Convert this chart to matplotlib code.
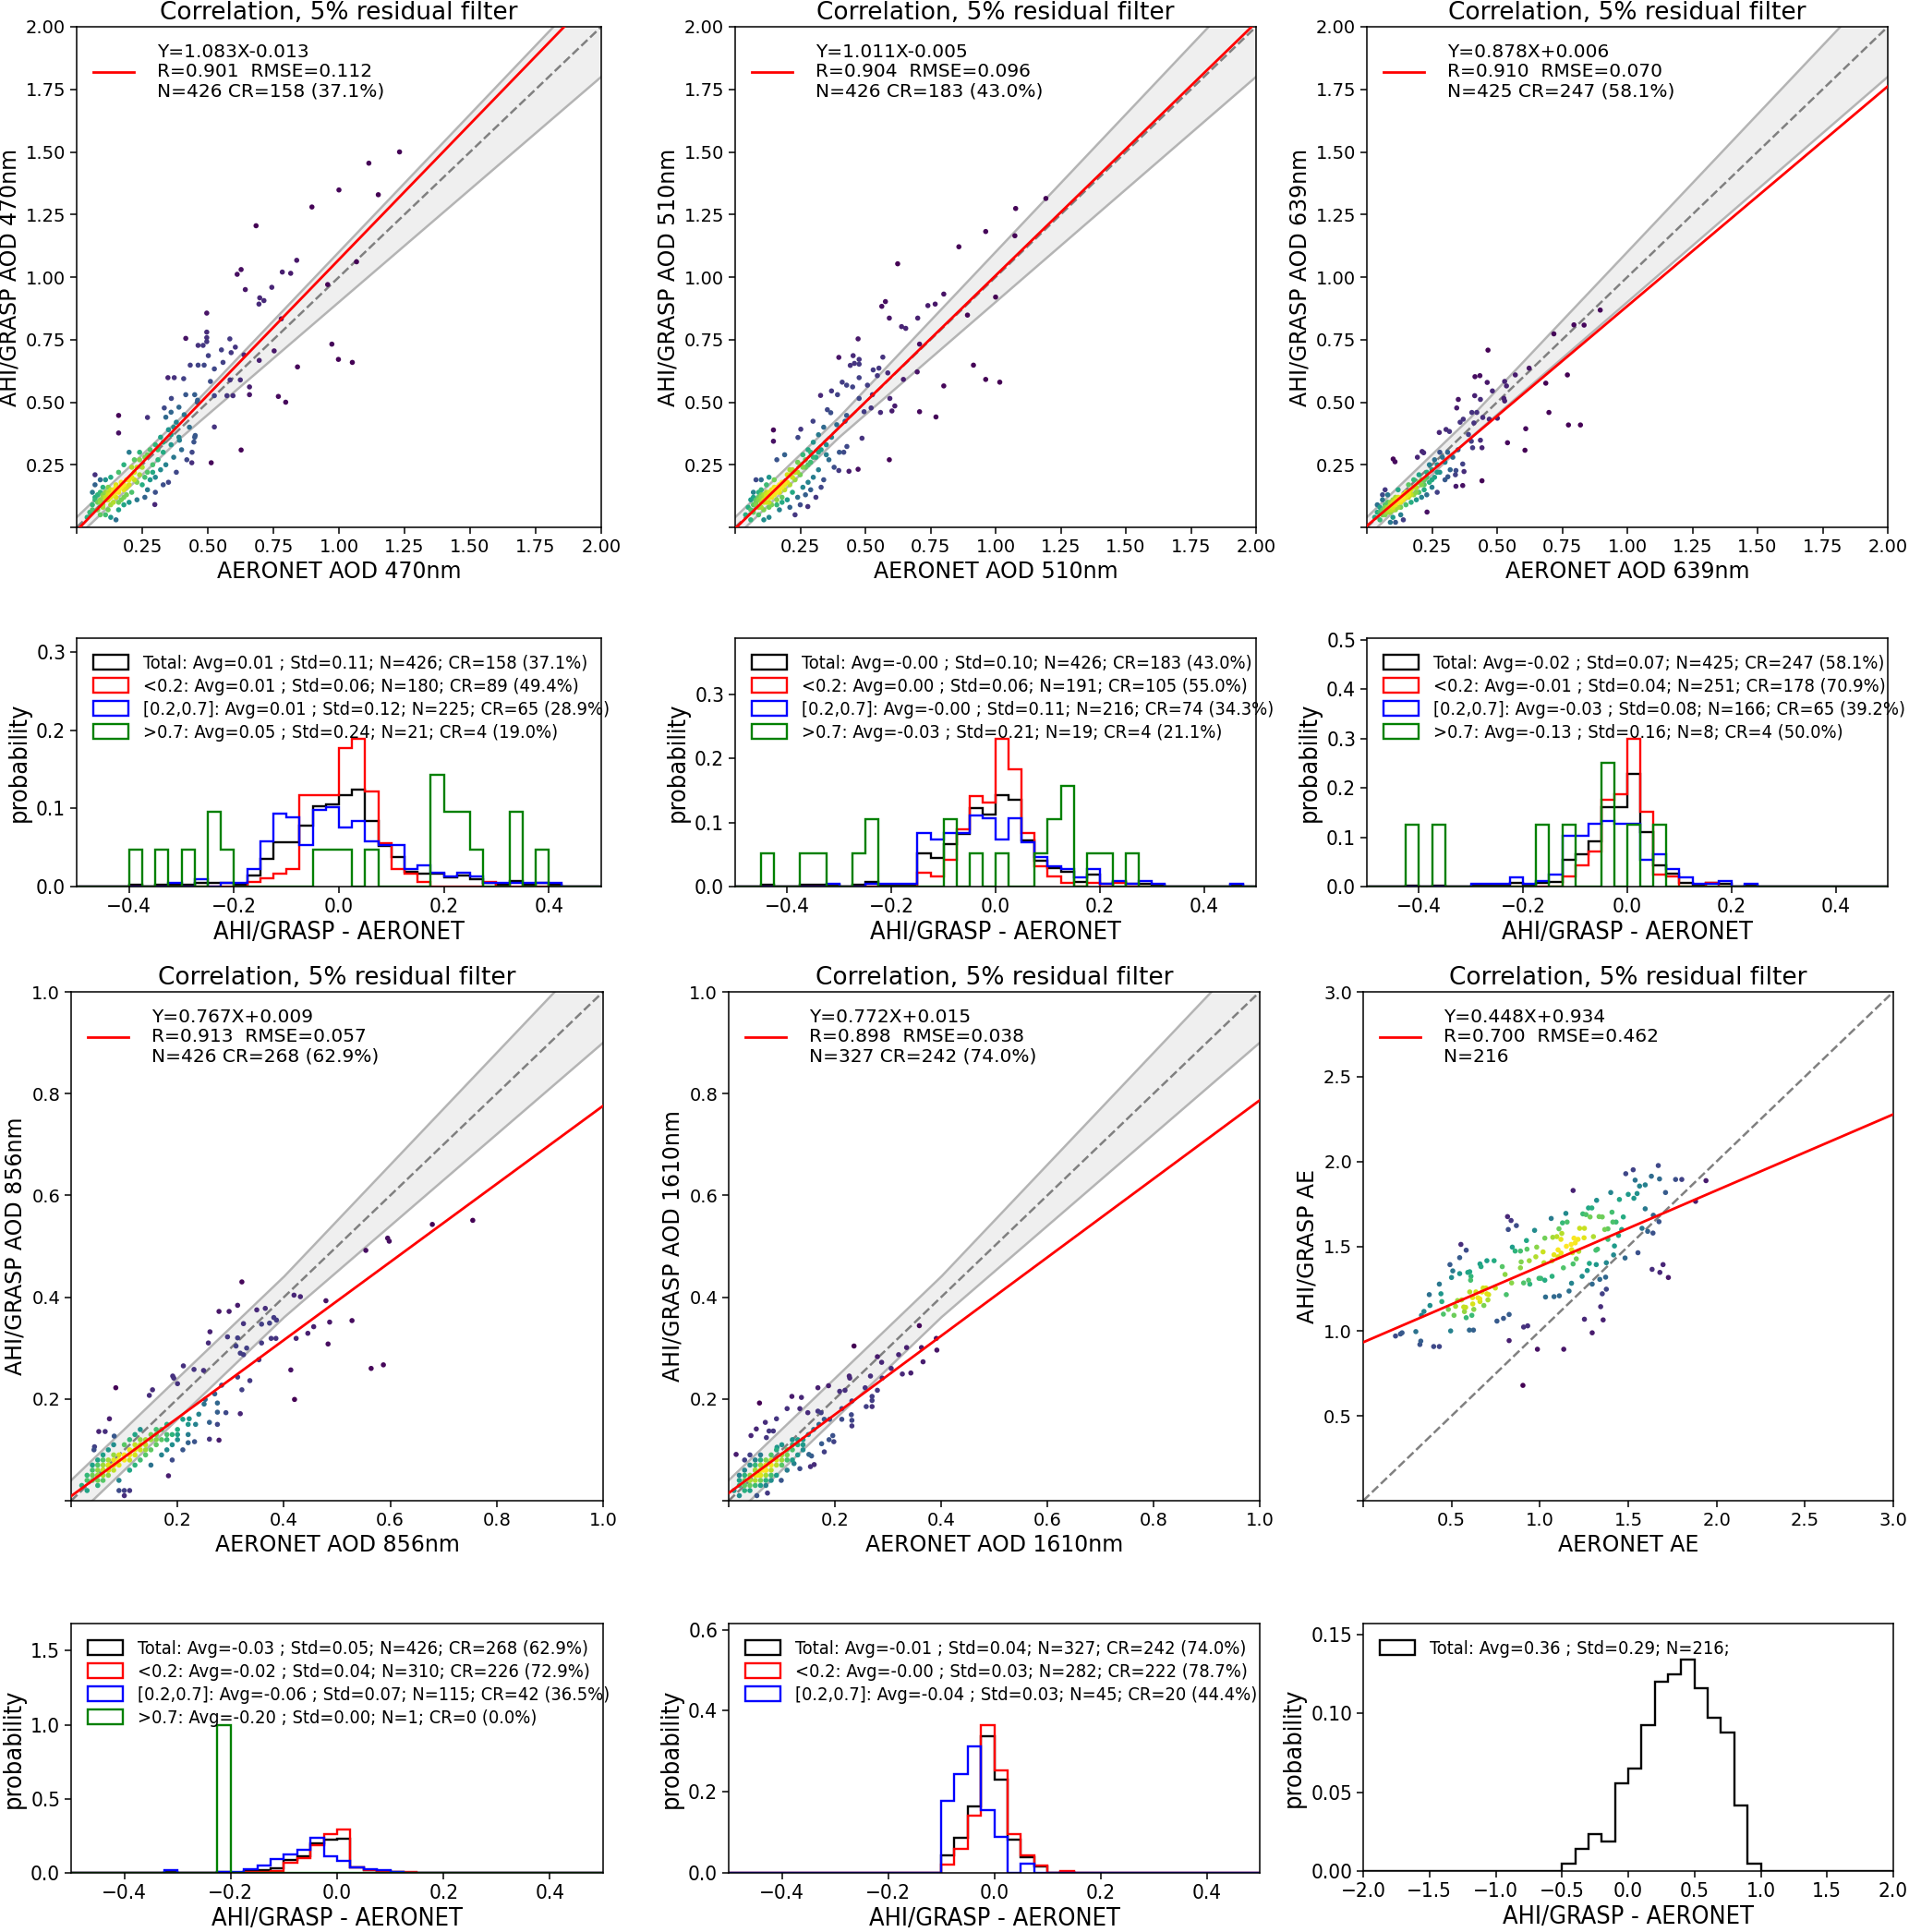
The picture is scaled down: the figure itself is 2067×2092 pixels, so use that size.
import numpy as np
import matplotlib
matplotlib.use("Agg")
import matplotlib.pyplot as plt
from matplotlib import font_manager as fm

# ---------------------------------------------------------------- data
titles = "Correlation, 5% residual filter"
bands = ["470nm", "510nm", "639nm", "856nm", "1610nm"]

fit_slope = [1.083, 1.011, 0.878, 0.767, 0.772, 0.448]
fit_icpt = [-0.013, -0.005, 0.006, 0.009, 0.015, 0.934]
fit_text = [
    "Y=1.083X-0.013\nR=0.901  RMSE=0.112\nN=426 CR=158 (37.1%)",
    "Y=1.011X-0.005\nR=0.904  RMSE=0.096\nN=426 CR=183 (43.0%)",
    "Y=0.878X+0.006\nR=0.910  RMSE=0.070\nN=425 CR=247 (58.1%)",
    "Y=0.767X+0.009\nR=0.913  RMSE=0.057\nN=426 CR=268 (62.9%)",
    "Y=0.772X+0.015\nR=0.898  RMSE=0.038\nN=327 CR=242 (74.0%)",
    "Y=0.448X+0.934\nR=0.700  RMSE=0.462\nN=216",
]

pts_470 = np.array([
    (1.231, 1.5), (1.114, 1.455), (1.0, 1.348), (1.15, 1.329), (0.897, 1.28), (0.684, 1.205),
    (1.067, 1.061), (0.839, 1.067), (0.627, 1.03), (0.612, 1.011), (0.784, 1.02), (0.816, 1.015),
    (0.957, 0.97), (0.643, 0.95), (0.744, 0.959), (0.698, 0.917), (0.714, 0.906), (0.695, 0.892),
    (0.78, 0.833), (0.496, 0.856), (0.496, 0.78), (0.496, 0.758), (0.496, 0.742), (0.416, 0.755),
    (0.584, 0.753), (0.973, 0.732), (0.753, 0.705), (0.463, 0.727), (0.482, 0.727), (0.605, 0.72),
    (0.589, 0.698), (0.552, 0.709), (0.638, 0.689), (0.502, 0.686), (0.696, 0.667), (0.998, 0.671),
    (1.051, 0.659), (0.842, 0.641), (0.433, 0.648), (0.463, 0.648), (0.486, 0.648), (0.525, 0.633),
    (0.558, 0.659), (0.348, 0.598), (0.372, 0.598), (0.408, 0.594), (0.51, 0.583), (0.585, 0.589),
    (0.624, 0.589), (0.659, 0.561), (0.525, 0.526), (0.573, 0.526), (0.596, 0.526), (0.659, 0.53),
    (0.769, 0.523), (0.797, 0.5), (0.361, 0.515), (0.416, 0.53), (0.45, 0.53), (0.461, 0.508),
    (0.334, 0.477), (0.16, 0.447), (0.27, 0.439), (0.16, 0.377), (0.525, 0.401), (0.452, 0.367),
    (0.447, 0.341), (0.392, 0.348), (0.627, 0.309), (0.513, 0.258), (0.439, 0.258), (0.298, 0.091),
    (0.05, 0.06), (0.06, 0.09), (0.07, 0.11), (0.08, 0.07), (0.08, 0.13), (0.09, 0.10), (0.10, 0.12),
    (0.10, 0.08), (0.11, 0.14), (0.12, 0.11), (0.12, 0.16), (0.13, 0.13), (0.14, 0.10), (0.14, 0.15),
    (0.15, 0.12), (0.15, 0.17), (0.16, 0.14), (0.17, 0.11), (0.17, 0.18), (0.18, 0.15), (0.19, 0.13),
    (0.19, 0.19), (0.20, 0.17), (0.21, 0.20), (0.21, 0.14), (0.22, 0.22), (0.23, 0.18), (0.24, 0.21),
    (0.25, 0.24), (0.25, 0.17), (0.04, 0.04), (0.06, 0.14), (0.07, 0.17), (0.09, 0.05), (0.11, 0.05),
    (0.13, 0.04), (0.15, 0.03), (0.16, 0.07), (0.18, 0.09), (0.20, 0.10), (0.07, 0.21), (0.09, 0.19),
    (0.11, 0.19), (0.13, 0.20), (0.10, 0.16), (0.12, 0.07), (0.26, 0.28), (0.27, 0.22), (0.28, 0.31),
    (0.28, 0.19), (0.29, 0.25), (0.30, 0.33), (0.30, 0.20), (0.31, 0.27), (0.32, 0.36), (0.32, 0.23),
    (0.33, 0.30), (0.34, 0.25), (0.35, 0.39), (0.35, 0.18), (0.36, 0.33), (0.37, 0.28), (0.38, 0.42),
    (0.38, 0.22), (0.39, 0.36), (0.40, 0.31), (0.41, 0.45), (0.42, 0.27), (0.43, 0.40), (0.44, 0.30),
    (0.24, 0.30), (0.22, 0.27), (0.26, 0.12), (0.23, 0.11), (0.27, 0.15), (0.30, 0.14), (0.33, 0.17),
    (0.36, 0.46), (0.39, 0.48), (0.34, 0.44), (0.37, 0.40), (0.45, 0.36), (0.46, 0.50), (0.20, 0.30),
    (0.18, 0.25), (0.16, 0.22), (0.11, 0.12), (0.12, 0.13), (0.13, 0.12), (0.14, 0.13), (0.15, 0.14),
    (0.08, 0.10), (0.09, 0.11), (0.10, 0.13), (0.11, 0.11), (0.12, 0.14), (0.13, 0.15), (0.14, 0.14),
    (0.15, 0.16), (0.16, 0.15), (0.17, 0.16), (0.18, 0.17), (0.19, 0.16), (0.20, 0.19), (0.22, 0.19),
    (0.23, 0.24), (0.06, 0.07), (0.07, 0.12), (0.09, 0.14), (0.10, 0.09), (0.13, 0.09), (0.16, 0.10),
    (0.18, 0.12), (0.21, 0.24), (0.24, 0.27), (0.27, 0.29), (0.26, 0.20), (0.29, 0.22), (0.31, 0.31),
    (0.33, 0.34), (0.36, 0.37),
])

pts_510 = np.array([
    (1.193, 1.314), (1.077, 1.274), (0.962, 1.182), (1.074, 1.165), (0.859, 1.121), (0.624, 1.053),
    (0.801, 0.932), (1.0, 0.92), (0.563, 0.883), (0.577, 0.902), (0.74, 0.886), (0.768, 0.892),
    (0.592, 0.836), (0.701, 0.836), (0.892, 0.848), (0.639, 0.802), (0.655, 0.795), (0.472, 0.753),
    (0.708, 0.732), (0.398, 0.679), (0.453, 0.686), (0.476, 0.671), (0.567, 0.68), (0.442, 0.647),
    (0.458, 0.655), (0.476, 0.652), (0.915, 0.648), (0.53, 0.629), (0.552, 0.636), (0.546, 0.606),
    (0.586, 0.617), (0.699, 0.621), (0.476, 0.598), (0.646, 0.591), (0.962, 0.591), (1.016, 0.58),
    (0.411, 0.58), (0.428, 0.568), (0.451, 0.561), (0.801, 0.565), (0.508, 0.568), (0.37, 0.545),
    (0.393, 0.53), (0.328, 0.527), (0.527, 0.53), (0.594, 0.515), (0.476, 0.515), (0.613, 0.485),
    (0.354, 0.47), (0.367, 0.458), (0.495, 0.462), (0.522, 0.477), (0.558, 0.459), (0.602, 0.465),
    (0.708, 0.462), (0.771, 0.441), (0.299, 0.424), (0.428, 0.447), (0.422, 0.424), (0.147, 0.389),
    (0.252, 0.392), (0.147, 0.344), (0.487, 0.356), (0.241, 0.359), (0.417, 0.3), (0.429, 0.323),
    (0.592, 0.27), (0.398, 0.227), (0.437, 0.224), (0.472, 0.232), (0.279, 0.083),
    (0.04, 0.05), (0.05, 0.08), (0.06, 0.11), (0.07, 0.06), (0.07, 0.14), (0.08, 0.09), (0.08, 0.19),
    (0.09, 0.12), (0.10, 0.10), (0.10, 0.15), (0.11, 0.07), (0.11, 0.13), (0.12, 0.17), (0.12, 0.10),
    (0.13, 0.12), (0.13, 0.04), (0.14, 0.15), (0.14, 0.09), (0.15, 0.13), (0.15, 0.19), (0.16, 0.11),
    (0.16, 0.16), (0.17, 0.14), (0.17, 0.07), (0.18, 0.18), (0.18, 0.12), (0.19, 0.15), (0.20, 0.21),
    (0.20, 0.11), (0.21, 0.17), (0.22, 0.23), (0.22, 0.14), (0.23, 0.19), (0.24, 0.26), (0.24, 0.12),
    (0.25, 0.21), (0.26, 0.29), (0.26, 0.16), (0.27, 0.24), (0.28, 0.31), (0.28, 0.18), (0.29, 0.26),
    (0.30, 0.34), (0.30, 0.20), (0.31, 0.28), (0.32, 0.37), (0.32, 0.23), (0.33, 0.31), (0.34, 0.40),
    (0.34, 0.19), (0.35, 0.33), (0.36, 0.27), (0.37, 0.36), (0.38, 0.24), (0.39, 0.41), (0.40, 0.30),
    (0.06, 0.03), (0.09, 0.05), (0.11, 0.03), (0.13, 0.20), (0.10, 0.19), (0.16, 0.27), (0.19, 0.29),
    (0.21, 0.08), (0.23, 0.05), (0.25, 0.09), (0.27, 0.13), (0.29, 0.15), (0.31, 0.12), (0.33, 0.16),
    (0.07, 0.09), (0.09, 0.08), (0.11, 0.10), (0.12, 0.13), (0.13, 0.10), (0.14, 0.12), (0.08, 0.11),
    (0.10, 0.12), (0.12, 0.12), (0.15, 0.15), (0.17, 0.17), (0.19, 0.18), (0.21, 0.21), (0.23, 0.22),
    (0.25, 0.25), (0.27, 0.27), (0.29, 0.30),
    (0.08, 0.10), (0.09, 0.11), (0.10, 0.13), (0.11, 0.11), (0.12, 0.14), (0.13, 0.14), (0.14, 0.13),
    (0.15, 0.16), (0.16, 0.14), (0.17, 0.15), (0.18, 0.16), (0.19, 0.17), (0.20, 0.18), (0.22, 0.20),
    (0.24, 0.22), (0.06, 0.07), (0.07, 0.12), (0.09, 0.14), (0.10, 0.08), (0.13, 0.08), (0.16, 0.09),
    (0.18, 0.10), (0.21, 0.23), (0.26, 0.24), (0.28, 0.25), (0.30, 0.28), (0.32, 0.30), (0.35, 0.29),
])

pts_639 = np.array([
    (0.896, 0.868), (0.795, 0.809), (0.834, 0.808), (0.718, 0.773), (0.465, 0.708), (0.57, 0.609),
    (0.623, 0.636), (0.77, 0.609), (0.415, 0.602), (0.434, 0.606), (0.462, 0.579), (0.529, 0.583),
    (0.536, 0.565), (0.687, 0.576), (0.482, 0.545), (0.414, 0.526), (0.436, 0.511), (0.351, 0.511),
    (0.526, 0.515), (0.529, 0.505), (0.345, 0.477), (0.403, 0.459), (0.422, 0.459), (0.699, 0.459),
    (0.37, 0.432), (0.358, 0.42), (0.445, 0.439), (0.501, 0.436), (0.47, 0.432), (0.411, 0.417),
    (0.304, 0.391), (0.278, 0.379), (0.317, 0.383), (0.61, 0.394), (0.774, 0.409), (0.82, 0.409),
    (0.39, 0.371), (0.436, 0.348), (0.401, 0.344), (0.54, 0.338), (0.442, 0.318), (0.406, 0.318),
    (0.607, 0.308), (0.212, 0.303), (0.218, 0.298), (0.194, 0.28), (0.101, 0.273), (0.108, 0.262),
    (0.368, 0.253), (0.342, 0.227), (0.373, 0.223), (0.311, 0.202), (0.442, 0.186), (0.342, 0.164),
    (0.368, 0.167), (0.231, 0.061),
    (0.03, 0.04), (0.04, 0.06), (0.05, 0.08), (0.05, 0.03), (0.06, 0.07), (0.06, 0.11), (0.07, 0.05),
    (0.07, 0.09), (0.08, 0.08), (0.08, 0.13), (0.09, 0.06), (0.09, 0.10), (0.10, 0.09), (0.10, 0.04),
    (0.11, 0.12), (0.11, 0.07), (0.12, 0.10), (0.12, 0.15), (0.13, 0.08), (0.13, 0.12), (0.14, 0.11),
    (0.14, 0.03), (0.15, 0.14), (0.15, 0.09), (0.16, 0.12), (0.16, 0.17), (0.17, 0.10), (0.17, 0.15),
    (0.18, 0.13), (0.18, 0.19), (0.19, 0.11), (0.19, 0.16), (0.20, 0.14), (0.20, 0.21), (0.21, 0.17),
    (0.21, 0.12), (0.22, 0.19), (0.22, 0.15), (0.23, 0.22), (0.23, 0.13), (0.24, 0.18), (0.25, 0.23),
    (0.25, 0.16), (0.26, 0.20), (0.27, 0.25), (0.27, 0.14), (0.28, 0.22), (0.29, 0.28), (0.30, 0.19),
    (0.30, 0.26), (0.31, 0.30), (0.32, 0.23), (0.33, 0.28), (0.34, 0.21), (0.35, 0.31), (0.04, 0.09),
    (0.06, 0.13), (0.07, 0.15), (0.09, 0.02), (0.11, 0.02), (0.13, 0.05), (0.06, 0.05), (0.07, 0.07),
    (0.08, 0.06), (0.08, 0.10), (0.09, 0.08), (0.10, 0.11), (0.10, 0.07), (0.11, 0.09), (0.12, 0.08),
    (0.05, 0.06), (0.12, 0.12), (0.13, 0.10), (0.14, 0.13), (0.16, 0.14), (0.17, 0.13), (0.18, 0.16),
    (0.19, 0.14), (0.20, 0.18), (0.28, 0.30), (0.26, 0.27), (0.24, 0.25),
    (0.06, 0.06), (0.07, 0.08), (0.08, 0.07), (0.09, 0.09), (0.10, 0.10), (0.11, 0.10), (0.12, 0.11),
    (0.13, 0.11), (0.14, 0.12), (0.15, 0.12), (0.16, 0.13), (0.07, 0.06), (0.09, 0.07), (0.10, 0.08),
    (0.11, 0.11), (0.21, 0.19), (0.22, 0.17), (0.23, 0.20), (0.25, 0.19), (0.27, 0.22),
])

pts_856 = np.array([
    (0.755, 0.551), (0.679, 0.543), (0.595, 0.516), (0.598, 0.51), (0.554, 0.492), (0.321, 0.43),
    (0.419, 0.404), (0.431, 0.401), (0.479, 0.393), (0.313, 0.384), (0.349, 0.375), (0.365, 0.378),
    (0.278, 0.372), (0.297, 0.372), (0.381, 0.36), (0.386, 0.355), (0.528, 0.354), (0.486, 0.351),
    (0.324, 0.348), (0.358, 0.347), (0.373, 0.349), (0.456, 0.342), (0.261, 0.332), (0.445, 0.329),
    (0.294, 0.322), (0.313, 0.32), (0.423, 0.319), (0.376, 0.319), (0.385, 0.319), (0.258, 0.31),
    (0.483, 0.308), (0.31, 0.304), (0.358, 0.31), (0.33, 0.3), (0.318, 0.29), (0.324, 0.287),
    (0.353, 0.277), (0.211, 0.265), (0.231, 0.258), (0.249, 0.256), (0.413, 0.257), (0.564, 0.26),
    (0.587, 0.267), (0.191, 0.245), (0.193, 0.241), (0.2, 0.23), (0.313, 0.243), (0.336, 0.236),
    (0.084, 0.222), (0.283, 0.227), (0.321, 0.218), (0.153, 0.218), (0.147, 0.207), (0.42, 0.199),
    (0.252, 0.199), (0.275, 0.192), (0.291, 0.173), (0.318, 0.171), (0.275, 0.174), (0.072, 0.161),
    (0.26, 0.154), (0.275, 0.15), (0.234, 0.15), (0.222, 0.161), (0.052, 0.136), (0.064, 0.136),
    (0.26, 0.121), (0.278, 0.119), (0.232, 0.116), (0.22, 0.114), (0.183, 0.049), (0.081, 0.127),
    (0.043, 0.1), (0.044, 0.106),
    (0.02, 0.03), (0.03, 0.05), (0.03, 0.02), (0.04, 0.04), (0.04, 0.07), (0.05, 0.05), (0.05, 0.03),
    (0.05, 0.08), (0.06, 0.06), (0.06, 0.04), (0.06, 0.09), (0.07, 0.07), (0.07, 0.05), (0.07, 0.10),
    (0.08, 0.06), (0.08, 0.08), (0.08, 0.11), (0.09, 0.07), (0.09, 0.09), (0.09, 0.04), (0.10, 0.08),
    (0.10, 0.11), (0.10, 0.02), (0.11, 0.09), (0.11, 0.12), (0.11, 0.06), (0.12, 0.10), (0.12, 0.13),
    (0.12, 0.07), (0.13, 0.11), (0.13, 0.08), (0.13, 0.14), (0.14, 0.12), (0.14, 0.09), (0.15, 0.10),
    (0.15, 0.13), (0.15, 0.07), (0.16, 0.11), (0.16, 0.14), (0.17, 0.09), (0.17, 0.12), (0.18, 0.10),
    (0.18, 0.13), (0.18, 0.15), (0.19, 0.11), (0.19, 0.08), (0.20, 0.12), (0.20, 0.14), (0.21, 0.10),
    (0.21, 0.16), (0.22, 0.13), (0.10, 0.01), (0.11, 0.02), (0.09, 0.02), (0.04, 0.06), (0.05, 0.06),
    (0.06, 0.05), (0.06, 0.07), (0.07, 0.06), (0.05, 0.04), (0.04, 0.05), (0.07, 0.08), (0.08, 0.07),
    (0.03, 0.04), (0.06, 0.08), (0.08, 0.09), (0.09, 0.08), (0.12, 0.09), (0.14, 0.10), (0.16, 0.13),
    (0.11, 0.10), (0.13, 0.12), (0.17, 0.14), (0.19, 0.13), (0.15, 0.12),
    (0.05, 0.05), (0.06, 0.06), (0.07, 0.07), (0.08, 0.07), (0.05, 0.07), (0.06, 0.06), (0.07, 0.06),
    (0.09, 0.08), (0.10, 0.09), (0.11, 0.08), (0.12, 0.11), (0.13, 0.10), (0.14, 0.11), (0.16, 0.12),
    (0.18, 0.12), (0.20, 0.13), (0.22, 0.15), (0.24, 0.17), (0.25, 0.19), (0.27, 0.21),
])

pts_1610 = np.array([
    (0.236, 0.304), (0.359, 0.344), (0.391, 0.319), (0.392, 0.296), (0.363, 0.301), (0.366, 0.273),
    (0.335, 0.301), (0.32, 0.287), (0.306, 0.26), (0.327, 0.249), (0.343, 0.251), (0.28, 0.283),
    (0.288, 0.272), (0.267, 0.245), (0.289, 0.241), (0.227, 0.245), (0.228, 0.241), (0.28, 0.217),
    (0.257, 0.222), (0.168, 0.222), (0.188, 0.226), (0.209, 0.215), (0.219, 0.217), (0.232, 0.196),
    (0.27, 0.205), (0.27, 0.197), (0.259, 0.185), (0.27, 0.185), (0.119, 0.205), (0.137, 0.203),
    (0.058, 0.192), (0.11, 0.181), (0.134, 0.181), (0.149, 0.173), (0.168, 0.176), (0.174, 0.173),
    (0.213, 0.181), (0.231, 0.169), (0.232, 0.158), (0.232, 0.147), (0.213, 0.16), (0.19, 0.16),
    (0.09, 0.161), (0.069, 0.154), (0.042, 0.128), (0.052, 0.141), (0.076, 0.137), (0.084, 0.137),
    (0.071, 0.124), (0.196, 0.128), (0.189, 0.12), (0.198, 0.116), (0.18, 0.096), (0.175, 0.112),
    (0.151, 0.091), (0.156, 0.088), (0.161, 0.071), (0.154, 0.067), (0.134, 0.063), (0.123, 0.073),
    (0.014, 0.091), (0.099, 0.04), (0.073, 0.015), (0.053, 0.01), (0.091, 0.105),
    (0.01, 0.02), (0.02, 0.04), (0.02, 0.01), (0.03, 0.03), (0.03, 0.06), (0.03, 0.02), (0.04, 0.04),
    (0.04, 0.07), (0.04, 0.02), (0.05, 0.05), (0.05, 0.03), (0.05, 0.08), (0.06, 0.06), (0.06, 0.04),
    (0.06, 0.09), (0.07, 0.05), (0.07, 0.07), (0.07, 0.03), (0.08, 0.06), (0.08, 0.09), (0.08, 0.04),
    (0.09, 0.07), (0.09, 0.10), (0.09, 0.05), (0.10, 0.08), (0.10, 0.11), (0.11, 0.09), (0.11, 0.06),
    (0.12, 0.10), (0.12, 0.12), (0.13, 0.09), (0.13, 0.11), (0.14, 0.12), (0.14, 0.10), (0.15, 0.13),
    (0.04, 0.05), (0.05, 0.06), (0.05, 0.04), (0.06, 0.05), (0.06, 0.07), (0.07, 0.06), (0.04, 0.03),
    (0.03, 0.04), (0.06, 0.03), (0.07, 0.04), (0.08, 0.05), (0.05, 0.07), (0.06, 0.08), (0.02, 0.03),
    (0.03, 0.05), (0.09, 0.08), (0.10, 0.07), (0.07, 0.08), (0.08, 0.07), (0.11, 0.08), (0.12, 0.08),
    (0.02, 0.05), (0.03, 0.08), (0.04, 0.09),
    (0.05, 0.05), (0.06, 0.06), (0.055, 0.05), (0.06, 0.05), (0.07, 0.06), (0.05, 0.06), (0.04, 0.04),
    (0.065, 0.06), (0.07, 0.07), (0.08, 0.08), (0.10, 0.09), (0.11, 0.10), (0.12, 0.11), (0.13, 0.12),
    (0.14, 0.11), (0.16, 0.14), (0.17, 0.15), (0.18, 0.16),
])

pts_ae = np.array([
    (0.183, 0.971), (0.211, 0.983), (0.22, 0.99), (0.298, 0.997), (0.321, 0.921), (0.326, 0.941),
    (0.344, 1.116), (0.33, 1.093), (0.374, 1.215), (0.378, 1.151), (0.399, 0.909), (0.431, 0.909),
    (0.431, 1.277), (0.44, 1.22), (0.445, 1.174), (0.454, 1.1), (0.491, 1.392), (0.5, 1.316),
    (0.507, 1.355), (0.495, 1.001), (0.482, 1.128), (0.514, 1.093), (0.534, 1.18), (0.523, 1.146),
    (0.546, 1.433), (0.553, 1.511), (0.546, 1.339), (0.557, 1.184), (0.569, 1.142), (0.573, 1.115),
    (0.583, 1.477), (0.592, 1.346), (0.603, 1.35), (0.61, 1.323), (0.608, 1.3), (0.603, 1.231),
    (0.583, 1.079), (0.601, 1.006), (0.624, 1.006), (0.615, 1.093), (0.626, 1.128), (0.619, 1.197),
    (0.638, 1.231), (0.661, 1.396), (0.667, 1.38), (0.7, 1.415), (0.741, 1.415), (0.649, 1.197),
    (0.661, 1.174), (0.672, 1.231), (0.679, 1.254), (0.683, 1.151), (0.706, 1.184), (0.71, 1.215),
    (0.695, 1.254), (0.748, 1.254), (0.757, 1.059), (0.787, 1.38), (0.803, 1.334), (0.81, 1.215),
    (0.794, 1.075), (0.826, 1.098), (0.817, 1.675), (0.821, 1.599), (0.837, 1.652), (0.867, 1.622),
    (0.826, 0.944), (0.844, 1.495), (0.86, 1.472), (0.89, 1.472), (0.894, 1.408), (0.84, 1.284),
    (0.89, 1.373), (0.908, 1.284), (0.908, 1.024), (0.931, 1.031), (0.904, 0.68), (0.924, 1.534),
    (0.927, 1.483), (0.936, 1.3), (0.94, 1.415), (0.943, 1.277), (0.97, 1.594), (0.977, 1.438),
    (0.982, 1.495), (0.995, 1.311), (0.986, 0.893), (1.005, 1.311), (1.028, 1.548), (1.018, 1.467),
    (1.023, 1.403), (1.028, 1.3), (1.032, 1.201), (1.064, 1.664), (1.069, 1.415), (1.069, 1.323),
    (1.073, 1.553), (1.08, 1.203), (1.096, 1.557), (1.103, 1.438), (1.11, 1.208), (1.103, 1.479),
    (1.108, 1.603), (1.119, 1.541), (1.124, 1.576), (1.128, 1.638), (1.133, 1.373), (1.135, 0.893),
    (1.147, 1.694), (1.154, 1.643), (1.165, 1.236), (1.177, 1.511), (1.184, 1.462), (1.188, 1.829),
    (1.188, 1.396), (1.179, 1.282), (1.193, 1.548), (1.206, 1.426), (1.216, 1.541), (1.225, 1.606),
    (1.239, 1.323), (1.252, 1.606), (1.243, 1.691), (1.252, 1.07), (1.261, 1.687), (1.268, 1.357),
    (1.275, 1.726), (1.28, 1.399), (1.284, 1.673), (1.294, 1.726), (1.296, 1.277), (1.296, 0.99),
    (1.303, 1.557), (1.317, 1.477), (1.319, 1.392), (1.321, 1.771), (1.326, 1.483), (1.335, 1.675),
    (1.339, 1.305), (1.344, 1.144), (1.353, 1.673), (1.353, 1.22), (1.358, 1.066), (1.367, 1.599),
    (1.372, 1.318), (1.376, 1.247), (1.376, 1.403), (1.385, 1.603), (1.385, 1.541), (1.401, 1.817),
    (1.408, 1.701), (1.413, 1.643), (1.417, 1.449), (1.422, 1.502), (1.431, 1.643), (1.445, 1.564),
    (1.45, 1.776), (1.463, 1.599), (1.472, 1.673), (1.482, 1.431), (1.486, 1.928), (1.5, 1.806),
    (1.528, 1.951), (1.532, 1.783), (1.539, 1.89), (1.55, 1.811), (1.555, 1.462), (1.564, 1.855),
    (1.578, 1.606), (1.596, 1.862), (1.596, 1.721), (1.61, 1.588), (1.631, 1.913), (1.635, 1.364),
    (1.642, 1.683), (1.64, 1.578), (1.67, 1.976), (1.677, 1.897), (1.674, 1.645), (1.679, 1.346),
    (1.697, 1.392), (1.711, 1.817), (1.727, 1.316), (1.768, 1.894), (1.803, 1.894), (1.881, 1.765),
    (1.94, 1.887), (1.15, 1.50), (1.20, 1.52), (1.12, 1.46), (1.25, 1.55), (1.18, 1.48),
    (0.62, 1.16), (0.66, 1.19), (0.58, 1.14), (0.70, 1.22), (1.08, 1.45), (1.22, 1.47),
])

# histogram counts per 0.025 bin from -0.5 to 0.5 (AOD) / per 0.1 bin from -2 to 2 (AE)
red_470 = [0,0,0,0,0,0,0,0,0,0, 0,0,0,1,2,3,4,21,21,21, 32,34,22,10,4,3,1,0,0,0, 0,1,0,0,0,0,0,0,0,0]
blue_470 = [0,0,0,0,0,0,0,1,0,2, 0,1,1,5,13,21,20,12,22,23, 17,19,13,12,12,5,6,4,3,4, 3,1,1,1,1,1,1,0,0,0]
green_470 = [0,0,0,0,1,0,1,0,1,0, 2,1,0,0,0,0,0,0,1,1, 1,0,1,0,0,0,0,3,2,2, 1,0,0,2,0,1,0,0,0,0]

red_510 = [0,0,0,0,0,0,0,0,0,0, 0,0,0,0,4,3,8,17,27,25, 44,35,16,6,3,1,0,1,0,1, 0,0,0,0,0,0,0,0,0,0]
blue_510 = [0,0,0,0,0,0,0,1,0,0, 1,1,1,1,18,16,18,18,24,23, 16,23,15,10,7,6,3,6,1,2, 1,2,1,0,0,0,0,0,1,0]
green_510 = [0,0,1,0,0,1,1,0,0,1, 2,0,0,0,0,0,2,0,1,0, 1,0,0,1,2,3,0,1,1,0, 1,0,0,0,0,0,0,0,0,0]

red_639 = [0,0,0,0,0,0,0,0,0,0, 0,0,0,0,0,5,11,18,44,47, 75,38,6,5,0,0,2,0,0,0, 0,0,0,0,0,0,0,0,0,0]
blue_639 = [0,0,0,0,0,0,0,0,1,1, 1,3,1,2,4,17,17,21,22,21, 21,9,11,6,3,1,1,2,0,1, 0,0,0,0,0,0,0,0,0,0]
green_639 = [0,0,0,1,0,1,0,0,0,0, 0,0,0,1,0,1,0,0,2,0, 1,0,1,0,0,0,0,0,0,0, 0,0,0,0,0,0,0,0,0,0]

red_856 = [0,0,0,0,0,0,0,0,0,0, 0,0,0,1,2,3,22,31,58,82, 90,12,5,2,1,1,0,0,0,0, 0,0,0,0,0,0,0,0,0,0]
blue_856 = [0,0,0,0,0,0,0,2,0,0, 0,1,1,3,6,11,14,18,27,13, 9,4,3,2,1,0,0,0,0,0, 0,0,0,0,0,0,0,0,0,0]
green_856 = [0,0,0,0,0,0,0,0,0,0, 0,1,0,0,0,0,0,0,0,0, 0,0,0,0,0,0,0,0,0,0, 0,0,0,0,0,0,0,0,0,0]

red_1610 = [0,0,0,0,0,0,0,0,0,0, 0,0,0,0,0,0,6,17,40,103, 71,27,12,5,0,1,0,0,0,0, 0,0,0,0,0,0,0,0,0,0]
blue_1610 = [0,0,0,0,0,0,0,0,0,0, 0,0,0,0,0,0,8,11,14,7, 4,0,1,0,0,0,0,0,0,0, 0,0,0,0,0,0,0,0,0,0]

total_ae = [0,0,0,0,0,0,0,0,0,0, 0,0,0,0,0,1,3,5,4,12, 14,20,26,27,29,25,21,19,9,1, 0,0,0,0,0,0,0,0,0,0]

hist_labels = {
    "470": ["Total: Avg=0.01 ; Std=0.11; N=426; CR=158 (37.1%)",
            "<0.2: Avg=0.01 ; Std=0.06; N=180; CR=89 (49.4%)",
            "[0.2,0.7]: Avg=0.01 ; Std=0.12; N=225; CR=65 (28.9%)",
            ">0.7: Avg=0.05 ; Std=0.24; N=21; CR=4 (19.0%)"],
    "510": ["Total: Avg=-0.00 ; Std=0.10; N=426; CR=183 (43.0%)",
            "<0.2: Avg=0.00 ; Std=0.06; N=191; CR=105 (55.0%)",
            "[0.2,0.7]: Avg=-0.00 ; Std=0.11; N=216; CR=74 (34.3%)",
            ">0.7: Avg=-0.03 ; Std=0.21; N=19; CR=4 (21.1%)"],
    "639": ["Total: Avg=-0.02 ; Std=0.07; N=425; CR=247 (58.1%)",
            "<0.2: Avg=-0.01 ; Std=0.04; N=251; CR=178 (70.9%)",
            "[0.2,0.7]: Avg=-0.03 ; Std=0.08; N=166; CR=65 (39.2%)",
            ">0.7: Avg=-0.13 ; Std=0.16; N=8; CR=4 (50.0%)"],
    "856": ["Total: Avg=-0.03 ; Std=0.05; N=426; CR=268 (62.9%)",
            "<0.2: Avg=-0.02 ; Std=0.04; N=310; CR=226 (72.9%)",
            "[0.2,0.7]: Avg=-0.06 ; Std=0.07; N=115; CR=42 (36.5%)",
            ">0.7: Avg=-0.20 ; Std=0.00; N=1; CR=0 (0.0%)"],
    "1610": ["Total: Avg=-0.01 ; Std=0.04; N=327; CR=242 (74.0%)",
             "<0.2: Avg=-0.00 ; Std=0.03; N=282; CR=222 (78.7%)",
             "[0.2,0.7]: Avg=-0.04 ; Std=0.03; N=45; CR=20 (44.4%)"],
    "ae": ["Total: Avg=0.36 ; Std=0.29; N=216;"],
}

# ---------------------------------------------------------------- fonts for the histogram panels
cond_path = None
for f in fm.fontManager.ttflist:
    if f.name == 'DejaVu Sans' and str(f.stretch) == 'condensed' and f.style == 'normal' \
            and f.weight in (400, 'normal', 'regular', 'book'):
        cond_path = f.fname
        break


def hist_font(size_normal, scale=1.0 / 0.9):
    if cond_path:
        return fm.FontProperties(fname=cond_path, size=size_normal * scale)
    return fm.FontProperties(family='DejaVu Sans', size=size_normal)


# ---------------------------------------------------------------- figure
W, H, DPI = 2067, 2092, 100
fig = plt.figure(figsize=(W / DPI, H / DPI), dpi=DPI)


def add_ax(l, t, r, b):
    return fig.add_axes([l / W, 1 - b / H, (r - l) / W, (b - t) / H])


def density(xy):
    xy = xy.T
    n = xy.shape[1]
    cov = np.cov(xy) * n ** (-2.0 / 6.0)
    inv = np.linalg.inv(cov)
    d = xy[:, :, None] - xy[:, None, :]
    m = np.einsum('inm,ij,jnm->nm', d, inv, d)
    return np.exp(-0.5 * m).sum(axis=1)


def scatter_panel(ax, pts, k, lim, ticks, xlabel, ylabel, band=True):
    z = density(pts)
    order = np.argsort(z)
    xs = np.linspace(0, lim, 400)
    if band:
        err = np.maximum(0.04, 0.1 * xs)
        ax.fill_between(xs, xs - err, xs + err, color='#efefef', lw=0, zorder=1)
        ax.plot(xs, xs + err, color='#b4b4b4', lw=1.8, zorder=2)
        ax.plot(xs, xs - err, color='#b4b4b4', lw=1.8, zorder=2)
    ax.plot([0, lim], [0, lim], '--', color='gray', lw=1.8, zorder=2)
    ax.scatter(pts[order, 0], pts[order, 1], c=z[order], cmap='viridis', s=16,
               edgecolors='none', zorder=3)
    ax.plot(xs, fit_slope[k] * xs + fit_icpt[k], color='red', lw=2.0, zorder=4,
            label=fit_text[k])
    ax.set_xlim(0, lim)
    ax.set_ylim(0, lim)
    ax.set_xticks(ticks)
    ax.set_yticks(ticks)
    fmt = '%.2f' if lim == 2 else '%.1f'
    labels = [''] + [fmt % t for t in ticks[1:]]
    ax.set_xticklabels(labels)
    ax.set_yticklabels(labels)
    ax.tick_params(labelsize=14, length=5, width=1.1)
    for s in ax.spines.values():
        s.set_linewidth(1.1)
    ax.set_xlabel(xlabel, fontsize=17)
    ax.set_ylabel(ylabel, fontsize=17)
    ax.set_title(titles, fontsize=19)
    leg = ax.legend(loc='upper left', frameon=False, fontsize=14.5,
                    handlelength=2.2, handletextpad=1.2)
    for t in leg.get_texts():
        t.set_linespacing(1.15)


def hist_panel(ax, groups, labels, lo, hi, nb, ylim, yticks, xticks):
    edges = np.linspace(lo, hi, nb + 1)
    centers = 0.5 * (edges[:-1] + edges[1:])
    cols = ['black', 'red', 'blue', 'green']
    arrs = [np.array(g, dtype=float) for g in groups]
    if len(arrs) > 1:
        total = np.sum(arrs, axis=0)
        arrs = [total] + arrs
    for a, c, lab in zip(arrs, cols, labels):
        ax.hist(centers, bins=edges, weights=a / a.sum(), histtype='step',
                color=c, lw=1.7, label=lab)
    ax.set_xlim(lo, hi)
    ax.set_ylim(0, ylim)
    ax.set_yticks(yticks)
    ax.set_xticks(xticks)
    ax.tick_params(length=5, width=1.1)
    tf = hist_font(14.5)
    for lbl in ax.get_xticklabels() + ax.get_yticklabels():
        lbl.set_fontproperties(tf)
    for s in ax.spines.values():
        s.set_linewidth(1.1)
    ax.set_xlabel("AHI/GRASP - AERONET", fontproperties=hist_font(17.5))
    ax.set_ylabel("probability", fontproperties=hist_font(17.5))
    lf = hist_font(13.0)
    ax.legend(loc='upper left', frameon=False, prop=lf, handlelength=1.9,
              handleheight=0.8, labelspacing=0.45 if not cond_path else 0.3,
              handletextpad=0.8)


# layout boxes (left, top, right, bottom) in pixels
sc_boxes = [(83, 29, 651, 571), (796, 29, 1360, 571), (1480, 29, 2044, 571),
            (77, 1074, 653, 1625), (789, 1074, 1364, 1625), (1476, 1074, 2050, 1625)]
hi_boxes = [(83, 691, 651, 960), (796, 691, 1360, 960), (1480, 691, 2044, 960),
            (77, 1758, 653, 2028), (789, 1758, 1364, 2028), (1476, 1758, 2050, 2026)]

all_pts = [pts_470, pts_510, pts_639, pts_856, pts_1610]
tick2 = list(np.arange(0, 2.001, 0.25))
tick1 = list(np.arange(0, 1.001, 0.2))
for k in range(5):
    ax = add_ax(*sc_boxes[k])
    lim = 2.0 if k < 3 else 1.0
    scatter_panel(ax, all_pts[k], k, lim, tick2 if k < 3 else tick1,
                  "AERONET AOD " + bands[k], "AHI/GRASP AOD " + bands[k])
ax = add_ax(*sc_boxes[5])
scatter_panel(ax, pts_ae, 5, 3.0, list(np.arange(0, 3.001, 0.5)),
              "AERONET AE", "AHI/GRASP AE", band=False)

xt = [-0.4, -0.2, 0.0, 0.2, 0.4]
hist_panel(add_ax(*hi_boxes[0]), [red_470, blue_470, green_470], hist_labels["470"],
           -0.5, 0.5, 40, 0.318, [0, 0.1, 0.2, 0.3], xt)
hist_panel(add_ax(*hi_boxes[1]), [red_510, blue_510, green_510], hist_labels["510"],
           -0.5, 0.5, 40, 0.388, [0, 0.1, 0.2, 0.3], xt)
hist_panel(add_ax(*hi_boxes[2]), [red_639, blue_639, green_639], hist_labels["639"],
           -0.5, 0.5, 40, 0.503, [0, 0.1, 0.2, 0.3, 0.4, 0.5], xt)
hist_panel(add_ax(*hi_boxes[3]), [red_856, blue_856, green_856], hist_labels["856"],
           -0.5, 0.5, 40, 1.683, [0, 0.5, 1.0, 1.5], xt)
hist_panel(add_ax(*hi_boxes[4]), [red_1610, blue_1610], hist_labels["1610"],
           -0.5, 0.5, 40, 0.615, [0, 0.2, 0.4, 0.6], xt)
hist_panel(add_ax(*hi_boxes[5]), [total_ae], hist_labels["ae"],
           -2.0, 2.0, 40, 0.157, [0, 0.05, 0.10, 0.15], [-2, -1.5, -1, -0.5, 0, 0.5, 1, 1.5, 2])

fig.savefig("out.png", dpi=DPI)
